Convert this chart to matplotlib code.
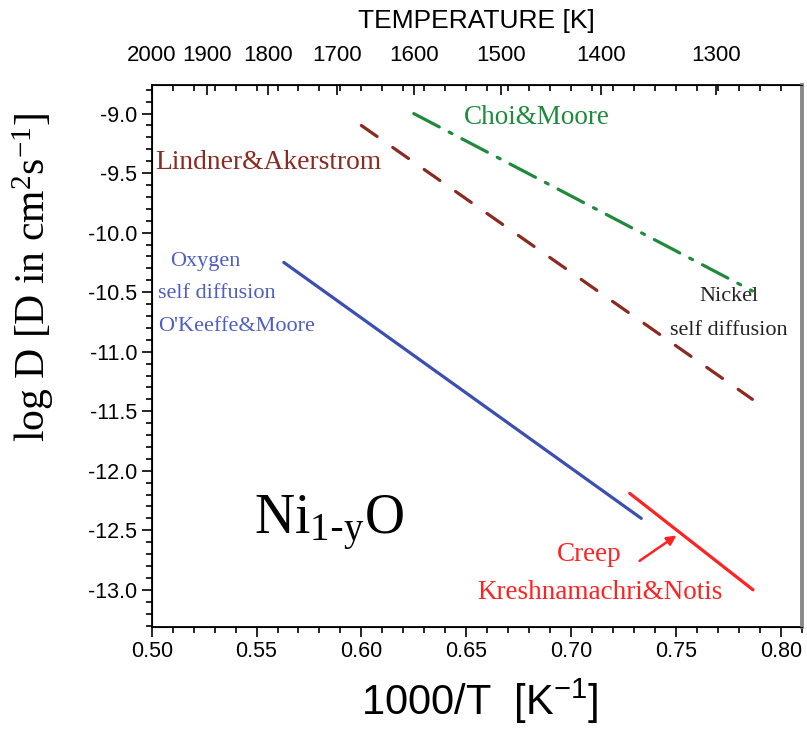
import numpy as np
import matplotlib
matplotlib.use("Agg")
import matplotlib.pyplot as plt

# ------------------------------------------------------------------
# Datos (1000/T en K^-1, log D en cm^2/s)
oxy_x = [0.563, 0.7335]
oxy_y = [-10.25, -12.40]
lind_x = [0.600, 0.7865]
lind_y = [-9.10, -11.40]
choi_x = [0.625, 0.7865]
choi_y = [-9.00, -10.49]
creep_x = [0.728, 0.7868]
creep_y = [-12.19, -13.00]

temps_K = [2000, 1900, 1800, 1700, 1600, 1500, 1400, 1300]
x_ticks = [0.50, 0.55, 0.60, 0.65, 0.70, 0.75, 0.80]
y_ticks = [-9.0, -9.5, -10.0, -10.5, -11.0, -11.5, -12.0, -12.5, -13.0]

SERIF = 'Liberation Serif'
SANS = 'Liberation Sans'

c_blue = '#3b4fb3'
c_blue_txt = '#4f5fc0'
c_brown = '#8a2a20'
c_green = '#1f8a3c'
c_red = '#ff2222'

fig = plt.figure(figsize=(8.07, 7.29), dpi=100)
ax = fig.add_axes([0.188, 0.1403, 0.8054, 0.7431])

ax.plot(oxy_x, oxy_y, color=c_blue, lw=2.3, solid_capstyle='round')
ax.plot(lind_x, lind_y, color=c_brown, lw=2.3, dashes=(6, 6), dash_capstyle='round')
ax.plot(choi_x, choi_y, color=c_green, lw=2.3, dashes=(9, 3.5, 1, 3.5), dash_capstyle='round')
ax.plot(creep_x, creep_y, color=c_red, lw=2.3, solid_capstyle='round')

ax.set_xlim(0.50, 0.8095)
ax.set_ylim(-13.31, -8.76)

# Ejes
ax.set_xticks(x_ticks)
ax.set_xticklabels(['%.2f' % v for v in x_ticks])
ax.set_xticks(np.arange(0.50, 0.81, 0.01), minor=True)
ax.set_yticks(y_ticks)
ax.set_yticklabels(['%.1f' % v for v in y_ticks])
ax.set_yticks(np.arange(-13.3, -8.75, 0.1), minor=True)
ax.tick_params(which='both', direction='out', right=False, top=False,
               labelsize=15.5, width=1.2)
ax.tick_params(which='major', length=7)
ax.tick_params(which='minor', length=4)
for lab in ax.get_xticklabels() + ax.get_yticklabels():
    lab.set_family(SANS)
for side in ['left', 'bottom', 'top']:
    ax.spines[side].set_linewidth(1.3)
ax.spines['right'].set_color('#8a8a8a')
ax.spines['right'].set_linewidth(2.6)

ax.set_xlabel(r'1000/T  [K$\mathregular{^{-1}}$]', family=SANS, fontsize=30)
ax.xaxis.set_label_coords(0.505, -0.092)
ax.set_ylabel(r'log D [D in cm$\mathregular{^2}$s$\mathregular{^{-1}}$]',
              family=SERIF, fontsize=30)
ax.yaxis.set_label_coords(-0.148, 0.645)

# Eje superior de temperatura
ax2 = ax.twiny()
ax2.set_xlim(ax.get_xlim())
ax2.set_xticks([1000.0 / t for t in temps_K])
ax2.set_xticklabels([str(t) for t in temps_K], family=SANS)
ax2.set_xticks(np.arange(0.50, 0.81, 0.01), minor=True)
ax2.tick_params(which='both', direction='in', labelsize=16, width=1.2, pad=14)
ax2.tick_params(which='major', length=7)
ax2.tick_params(which='minor', length=4)
ax2.set_xlabel('TEMPERATURE [K]', family=SANS, fontsize=19, labelpad=12)
ax2.spines['right'].set_color('#8a8a8a')
ax2.spines['right'].set_linewidth(2.6)

# Textos
ax.text(0.649, -9.03, 'Choi&Moore', color=c_green, family=SERIF, fontsize=19.5,
        va='center', ha='left')
ax.text(0.5016, -9.41, 'Lindner&Akerstrom', color=c_brown, family=SERIF,
        fontsize=19.8, va='center', ha='left')
ax.text(0.5087, -10.24, 'Oxygen', color=c_blue_txt, family=SERIF, fontsize=16,
        va='center', ha='left')
ax.text(0.503, -10.51, 'self diffusion', color=c_blue_txt, family=SERIF,
        fontsize=16, va='center', ha='left')
ax.text(0.503, -10.79, "O'Keeffe&Moore", color=c_blue_txt, family=SERIF,
        fontsize=16, va='center', ha='left')
ax.text(0.7754, -10.54, 'Nickel', color='#222222', family=SERIF, fontsize=16,
        va='center', ha='center')
ax.text(0.7754, -10.82, 'self diffusion', color='#222222', family=SERIF,
        fontsize=16, va='center', ha='center')
ax.text(0.549, -12.53, r'Ni$\mathregular{_{1\text{-}y}}$O', color='black',
        family=SERIF, fontsize=40, va='baseline', ha='left')
ax.text(0.7085, -12.70, 'Creep', color=c_red, family=SERIF, fontsize=19.5,
        va='center', ha='center')
ax.text(0.714, -13.02, 'Kreshnamachri&Notis', color=c_red, family=SERIF,
        fontsize=19.5, va='center', ha='center')
ax.annotate('', xy=(0.7514, -12.53), xytext=(0.7316, -12.77),
            arrowprops=dict(arrowstyle='-|>', color=c_red, lw=1.8,
                            mutation_scale=14))

fig.savefig('out.png', dpi=100)
